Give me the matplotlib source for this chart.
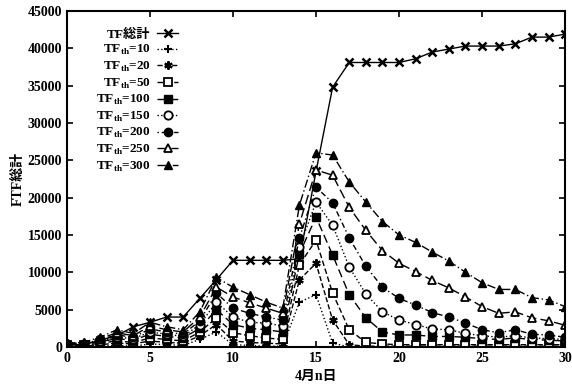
import numpy as np
import matplotlib
matplotlib.use("Agg")
import matplotlib.pyplot as plt

plt.rcParams['font.family'] = ['Liberation Serif', 'Noto Sans CJK JP']
plt.rcParams['font.weight'] = 'bold'
plt.rcParams['mathtext.fontset'] = 'custom'
plt.rcParams['mathtext.rm'] = 'Liberation Serif:bold'

days = list(range(31))

tf_total = [300, 300, 900, 1500, 2700, 3300, 4000, 4000, 6500, 9000, 11600, 11600, 11600, 11600,
            11800, 23500, 34800, 38100, 38100, 38100, 38100, 38600, 39500, 39900, 40300, 40300,
            40300, 40600, 41500, 41500, 41900]
tf_10 = [0, 0, 100, 200, 100, 400, 300, 200, 1000, 2000, 300, 200, 100, 100,
         6000, 7000, 500, 0, 0, 0, 0, 0, 0, 0, 0, 0, 0, 0, 0, 0, 0]
tf_20 = [100, 100, 300, 500, 400, 800, 600, 500, 1500, 3000, 800, 600, 500, 400,
         9000, 11200, 3600, 300, 100, 100, 100, 100, 100, 100, 100, 100, 100, 100, 100, 100, 100]
tf_50 = [200, 200, 500, 800, 600, 1200, 1000, 800, 2000, 3900, 1900, 1500, 1200, 1000,
         11000, 14300, 7200, 2300, 600, 400, 300, 300, 300, 300, 300, 300, 300, 300, 300, 300, 300]
tf_100 = [300, 300, 700, 1100, 900, 1700, 1400, 1200, 2500, 5000, 3000, 2500, 2300, 2000,
          12500, 17400, 12300, 7000, 3900, 2000, 1600, 1600, 1400, 1400, 1300, 1100, 1000, 1200,
          1000, 900, 800]
tf_150 = [400, 300, 800, 1300, 1100, 2000, 1700, 1400, 3000, 6000, 4000, 3300, 3200, 2800,
          13400, 19400, 16300, 10700, 7100, 4700, 3600, 3000, 2400, 2300, 1800, 1500, 1300, 1500,
          1200, 1100, 1000]
tf_200 = [400, 400, 1000, 1600, 1300, 2400, 2000, 1700, 3500, 7200, 5200, 4500, 4000, 3600,
          14600, 21400, 19300, 14600, 10800, 8000, 6500, 5600, 4600, 4000, 3200, 2300, 1900, 2300,
          1700, 1600, 1300]
tf_250 = [500, 500, 1100, 1900, 1500, 2800, 2300, 2000, 4000, 8000, 6700, 5900, 5200, 4500,
          16500, 23700, 23000, 18700, 15600, 12900, 11200, 10100, 8900, 7900, 6700, 5400, 4500, 4700,
          3900, 3500, 2900]
tf_300 = [500, 600, 1300, 2300, 1800, 3300, 2700, 2300, 4700, 9300, 8000, 7000, 6000, 5200,
          19000, 26000, 25700, 22100, 19400, 16800, 15000, 14000, 12700, 11500, 10000, 8600, 7700, 7700,
          6600, 6300, 5400]

fig = plt.figure(figsize=(5.72, 3.92), dpi=100)
ax = fig.add_axes([0.117, 0.115, 0.871, 0.857])

k = dict(color='black', lw=1.0, markersize=6)
ax.plot(days, tf_total, marker='x', ls='-', mew=1.8, label='TF総計', **k)
ax.plot(days, tf_10, marker='+', ls=':', mew=1.5, label=r'TF$_{\rm th}$=10', **k)
ax.plot(days, tf_20, marker=(6, 2, 0), ls='--', mew=1.5, label=r'TF$_{\rm th}$=20', **k)
ax.plot(days, tf_50, marker='s', ls=(0, (4, 2)), mfc='white', mew=1.3, label=r'TF$_{\rm th}$=50', **k)
ax.plot(days, tf_100, marker='s', ls=(0, (6, 3)), mfc='black', label=r'TF$_{\rm th}$=100', **k)
ax.plot(days, tf_150, marker='o', ls=':', mfc='white', mew=1.3, label=r'TF$_{\rm th}$=150', **k)
ax.plot(days, tf_200, marker='o', ls=(0, (1, 2, 4, 2)), mfc='black', label=r'TF$_{\rm th}$=200', **k)
ax.plot(days, tf_250, marker='^', ls=(0, (7, 3)), mfc='white', mew=1.3, label=r'TF$_{\rm th}$=250', **k)
ax.plot(days, tf_300, marker='^', ls=(0, (6, 2, 1, 2)), mfc='black', label=r'TF$_{\rm th}$=300', **k)

ax.set_xlim(0, 30)
ax.set_ylim(0, 45000)
ax.set_xticks(range(0, 31, 5))
ax.set_yticks(range(0, 45001, 5000))
ax.tick_params(direction='in', top=True, right=True, labelsize=10, length=4, width=1.2)
for s in ax.spines.values():
    s.set_linewidth(1.5)

ax.set_xlabel('4月n日', fontsize=10, fontweight='bold')
ax.set_ylabel('FTF総計', fontsize=10, fontweight='bold', labelpad=2)

ax.legend(loc='upper left', bbox_to_anchor=(0.04, 0.975), frameon=False, markerfirst=False,
          fontsize=9.5, labelspacing=0.19, handlelength=1.6, handletextpad=0.5,
          borderaxespad=0.3)

fig.savefig('out.png', dpi=100)
